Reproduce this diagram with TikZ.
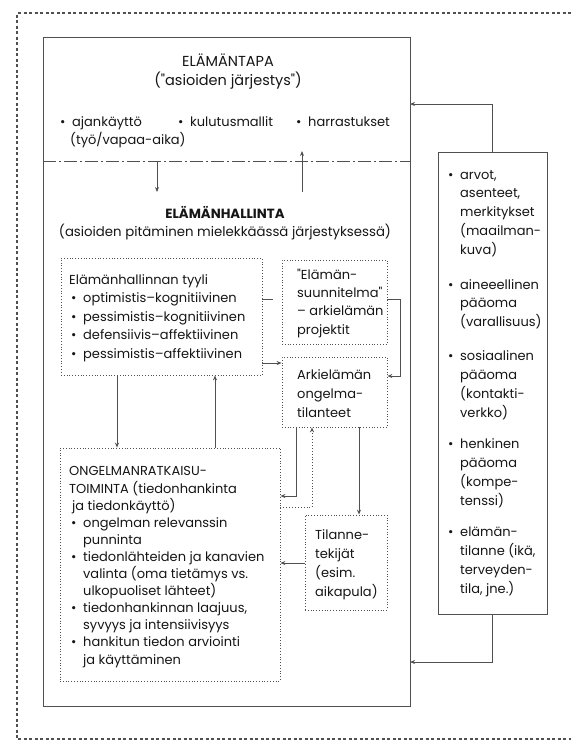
\documentclass[tikz,border=0pt]{standalone}
\usepackage{fontspec}
\setmainfont{Poppins}
\usetikzlibrary{arrows.meta}
\definecolor{linegray}{HTML}{505050}
\definecolor{textc}{HTML}{151515}
\newcommand{\mybul}{\makebox[12pt][l]{\textbullet}}
\newcommand{\myind}{\hspace*{12pt}}
\begin{document}
\begin{tikzpicture}[x=1pt,y=-1pt,
  line/.style={draw=linegray, line width=0.9pt},
  solidbox/.style={draw=linegray, line width=1pt, inner sep=0pt},
  dotbox/.style={draw=linegray, line width=0.8pt, dotted, inner sep=0pt},
  arr/.style={line, -{Stealth[length=5pt,width=4pt]}},
  dotarr/.style={arr, dotted},
  txt/.style={inner sep=0pt, align=left, anchor=base west, font=\fontsize{13}{18.5}\selectfont, text=textc},
  ctxt/.style={txt, align=center, anchor=base},
  frame/.style={draw=linegray, line width=1.1pt, dash pattern=on 3pt off 2.5pt},
]
\useasboundingbox (0,0) rectangle (571,740);
% outer frame
\draw[frame] (571,13) -- (17,13) -- (17,739) -- (571,739);

% boxes
\node[solidbox, minimum width=367pt, minimum height=669pt] (main) at (226.5,371.5) {};
\node[solidbox, minimum width=109pt, minimum height=462pt] (arvot) at (492.5,383) {};
\node[dotbox, minimum width=201pt, minimum height=117pt] (tyyli) at (161.5,316.5) {};
\node[dotbox, minimum width=105pt, minimum height=84pt] (suunn) at (334.5,302) {};
\node[dotbox, minimum width=105pt, minimum height=70pt] (arki) at (334.5,392) {};
\node[dotbox, minimum width=220pt, minimum height=233pt] (ong) at (170,564.5) {};
\node[dotbox, minimum width=82pt, minimum height=95pt] (tilanne) at (346,562.5) {};

% texts (anchor = baseline of the last line)
\node[ctxt, font=\fontsize{14.5}{19}\selectfont] (tapa) at (228,85) {ELÄMÄNTAPA\\(\textquotedbl asioiden järjestys\textquotedbl)};
\node[txt] (ajank) at (60,144.5) {\mybul ajankäyttö\\\hspace*{10pt}(työ/vapaa-aika)};
\node[txt] (kulut) at (178,126) {\mybul kulutusmallit};
\node[txt] (harra) at (296,126) {\mybul harrastukset};
\node[ctxt, font=\fontsize{13.3}{18}\selectfont] (hall) at (225,236) {\textbf{ELÄMÄNHALLINTA}\\(asioiden pitäminen mielekkäässä järjestyksessä)};
\node[txt] (tyylit) at (69,358) {Elämänhallinnan tyyli\\
  \hspace*{2pt}\mybul optimistis–kognitiivinen\\
  \hspace*{2pt}\mybul pessimistis–kognitiivinen\\
  \hspace*{2pt}\mybul defensiivis–affektiivinen\\
  \hspace*{2pt}\mybul pessimistis–affektiivinen};
\node[txt, font=\fontsize{13}{18.3}\selectfont] (suunnt) at (297,334) {\textquotedbl Elämän-\\suunnitelma\textquotedbl\\– arkielämän\\projektit};
\node[txt, font=\fontsize{13}{19}\selectfont] (arkit) at (297,417) {Arkielämän\\ongelma-\\tilanteet};
\node[txt, font=\fontsize{13}{17.1}\selectfont] (ongt) at (69,664) {ONGELMANRATKAISU-\\
  TOIMINTA (tiedonhankinta\\
  \hspace*{3pt}ja tiedonkäyttö)\\
  \hspace*{2pt}\mybul ongelman relevanssin\\
  \hspace*{2pt}\myind punninta\\
  \hspace*{2pt}\mybul tiedonlähteiden ja kanavien\\
  \hspace*{2pt}\myind valinta (oma tietämys vs.\\
  \hspace*{2pt}\myind ulkopuoliset lähteet)\\
  \hspace*{2pt}\mybul tiedonhankinnan laajuus,\\
  \hspace*{2pt}\myind syvyys ja intensiivisyys\\
  \hspace*{2pt}\mybul hankitun tiedon arviointi\\
  \hspace*{2pt}\myind ja käyttäminen};
\node[txt, font=\fontsize{13}{19}\selectfont] (tilt) at (315,596) {Tilanne-\\tekijät\\(esim.\\aikapula)};
\node[txt, font=\fontsize{13}{18.7}\selectfont] (arv1) at (448,254) {\mybul arvot,\\\myind asenteet,\\\myind merkitykset\\\myind (maailman-\\\myind kuva)};
\node[txt, font=\fontsize{13}{18.7}\selectfont] (arv2) at (448,326.5) {\mybul aineeellinen\\\myind pääoma\\\myind (varallisuus)};
\node[txt, font=\fontsize{13}{18.7}\selectfont] (arv3) at (448,417) {\mybul sosiaalinen\\\myind pääoma\\\myind (kontakti-\\\myind verkko)};
\node[txt, font=\fontsize{13}{18.7}\selectfont] (arv4) at (448,505) {\mybul henkinen\\\myind pääoma\\\myind (kompe-\\\myind tenssi)};
\node[txt, font=\fontsize{13}{18.7}\selectfont] (arv5) at (448,593) {\mybul elämän-\\\myind tilanne (ikä,\\\myind terveyden-\\\myind tila, jne.)};

% separator and arrows in main box
\coordinate (sepL) at (43,161);
\coordinate (sepR) at (410,161);
\draw[line, dash pattern=on 13pt off 3pt on 2pt off 3pt] (sepL) -- (sepR);
\coordinate (dnA) at (157,161);
\coordinate (dnB) at (157,192);
\draw[arr] (dnA) -- (dnB);
\coordinate (upA) at (302,192);
\coordinate (upB) at (302,151);
\draw[arr] (upA) -- (upB);

% arvot to main
\coordinate (in1) at (410,104);
\coordinate (in2) at (410,662);
\draw[arr] (arvot.north) |- (in1);
\draw[arr] (arvot.south) |- (in2);

% inner connectors
\draw[line] (tyyli.east |- 0,299) -- (273,299);
\draw[arr] (suunn.east |- 0,299) -- (400,299) -- (400,376) -- (arki.east |- 0,376);
\draw[arr] (tyyli.east |- 0,363) -- (arki.west |- 0,363);
\draw[arr] (tyyli.south -| 117,0) -- (ong.north -| 117,0);
\draw[arr] (ong.north -| 215,0) -- (tyyli.south -| 215,0);
\draw[arr] (arki.south -| 296,0) |- (ong.east |- 0,496);
\draw[dotarr] (ong.east |- 0,507) -| (arki.south -| 312,0);
\draw[arr] (arki.south -| 359,0) -- (tilanne.north -| 359,0);
\draw[arr] (tilanne.west |- 0,563) -- (ong.east |- 0,563);
\end{tikzpicture}
\end{document}
